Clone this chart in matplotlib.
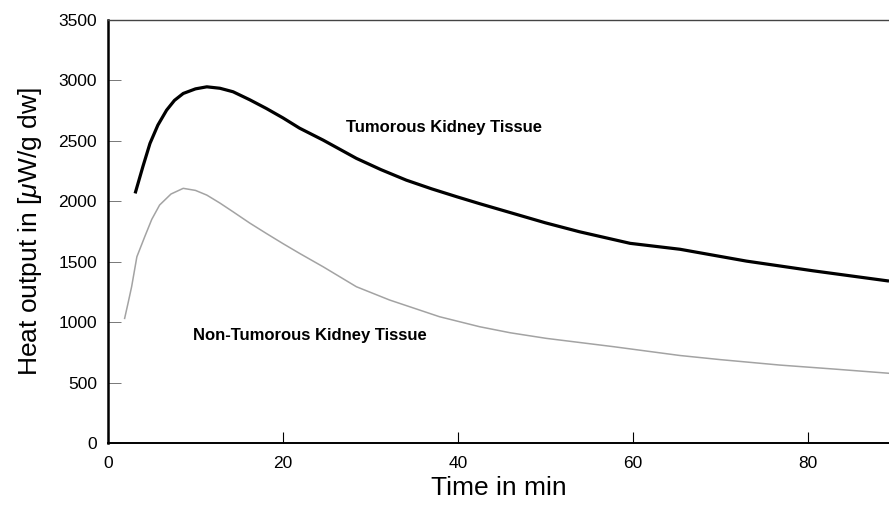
"""
Heat output of kidney tissue over time (microcalorimetry)
"""

import matplotlib

matplotlib.use("Agg")  # noqa: E402
import matplotlib.pyplot as plt  # noqa: E402

plt.rcParams["font.family"] = ["Liberation Sans", "DejaVu Sans"]
plt.rcParams["mathtext.fontset"] = "custom"
plt.rcParams["mathtext.it"] = "Liberation Sans:italic"
plt.rcParams["mathtext.rm"] = "Liberation Sans"

# values
tumor_t = [3.1, 4.0, 4.8, 5.7, 6.7, 7.6, 8.6, 10.0, 11.3, 12.8, 14.3, 16.2, 18.1, 20.0, 21.9,
           24.6, 28.4, 31.2, 34.1, 37.0, 39.9, 42.5, 46.3, 50.0, 53.9, 59.7, 65.4, 73.0, 80.6, 89.3]
tumor_v = [2065, 2290, 2479, 2630, 2754, 2835, 2892, 2930, 2947, 2935, 2906, 2840, 2768, 2690, 2605,
           2506, 2355, 2262, 2175, 2103, 2037, 1980, 1900, 1822, 1748, 1652, 1603, 1505, 1425, 1340]

normal_t = [1.9, 2.3, 2.7, 3.3, 4.2, 5.0, 5.9, 7.2, 8.6, 10.0, 11.3, 12.8, 14.3, 16.2, 18.1, 20.0,
            21.9, 24.6, 28.4, 32.2, 37.9, 42.5, 46.0, 50.1, 57.8, 65.4, 70.0, 76.8, 83.0, 89.3]
normal_v = [1031, 1160, 1293, 1541, 1707, 1850, 1969, 2060, 2107, 2090, 2051, 1985, 1913, 1820, 1734, 1650,
            1569, 1458, 1293, 1183, 1045, 962, 912, 866, 797, 724, 690, 645, 612, 577]

x_ticks = [0, 20, 40, 60, 80]
y_ticks = [0, 500, 1000, 1500, 2000, 2500, 3000, 3500]

fig = plt.figure(figsize=(8.89, 5.07), dpi=100)
ax = fig.add_axes([0.1215, 0.1262, 0.8785, 0.8344])

ax.plot(tumor_t, tumor_v, color="black", linewidth=2.3, solid_capstyle="butt")
ax.plot(normal_t, normal_v, color="#a3a3a3", linewidth=1.1)

ax.text(38.4, 2614, "Tumorous Kidney Tissue", fontsize=12, fontweight="bold", ha="center", va="center")
ax.text(23.1, 893, "Non-Tumorous Kidney Tissue", fontsize=12, fontweight="bold", ha="center", va="center")

ax.set_xlim(0, 89.3)
ax.set_ylim(0, 3500)
ax.set_xticks(x_ticks)
ax.set_yticks(y_ticks)
ax.tick_params(axis="both", direction="in", labelsize=12.5, colors="black")
ax.tick_params(axis="x", length=8, width=0.8, pad=9)
ax.tick_params(axis="y", length=9, width=0.7, color="#777777", labelcolor="black", pad=8)

ax.spines["right"].set_visible(False)
ax.spines["left"].set_linewidth(1.8)
ax.spines["bottom"].set_linewidth(1.4)
ax.spines["top"].set_linewidth(1.0)
ax.spines["top"].set_color("#444444")

ax.set_xlabel("Time in min", fontsize=19, labelpad=4)
ax.set_ylabel(r"Heat output in [$\mu$W/g dw]", fontsize=19, labelpad=10)

plt.savefig("out.png", dpi=100, facecolor="white")
plt.close(fig)
